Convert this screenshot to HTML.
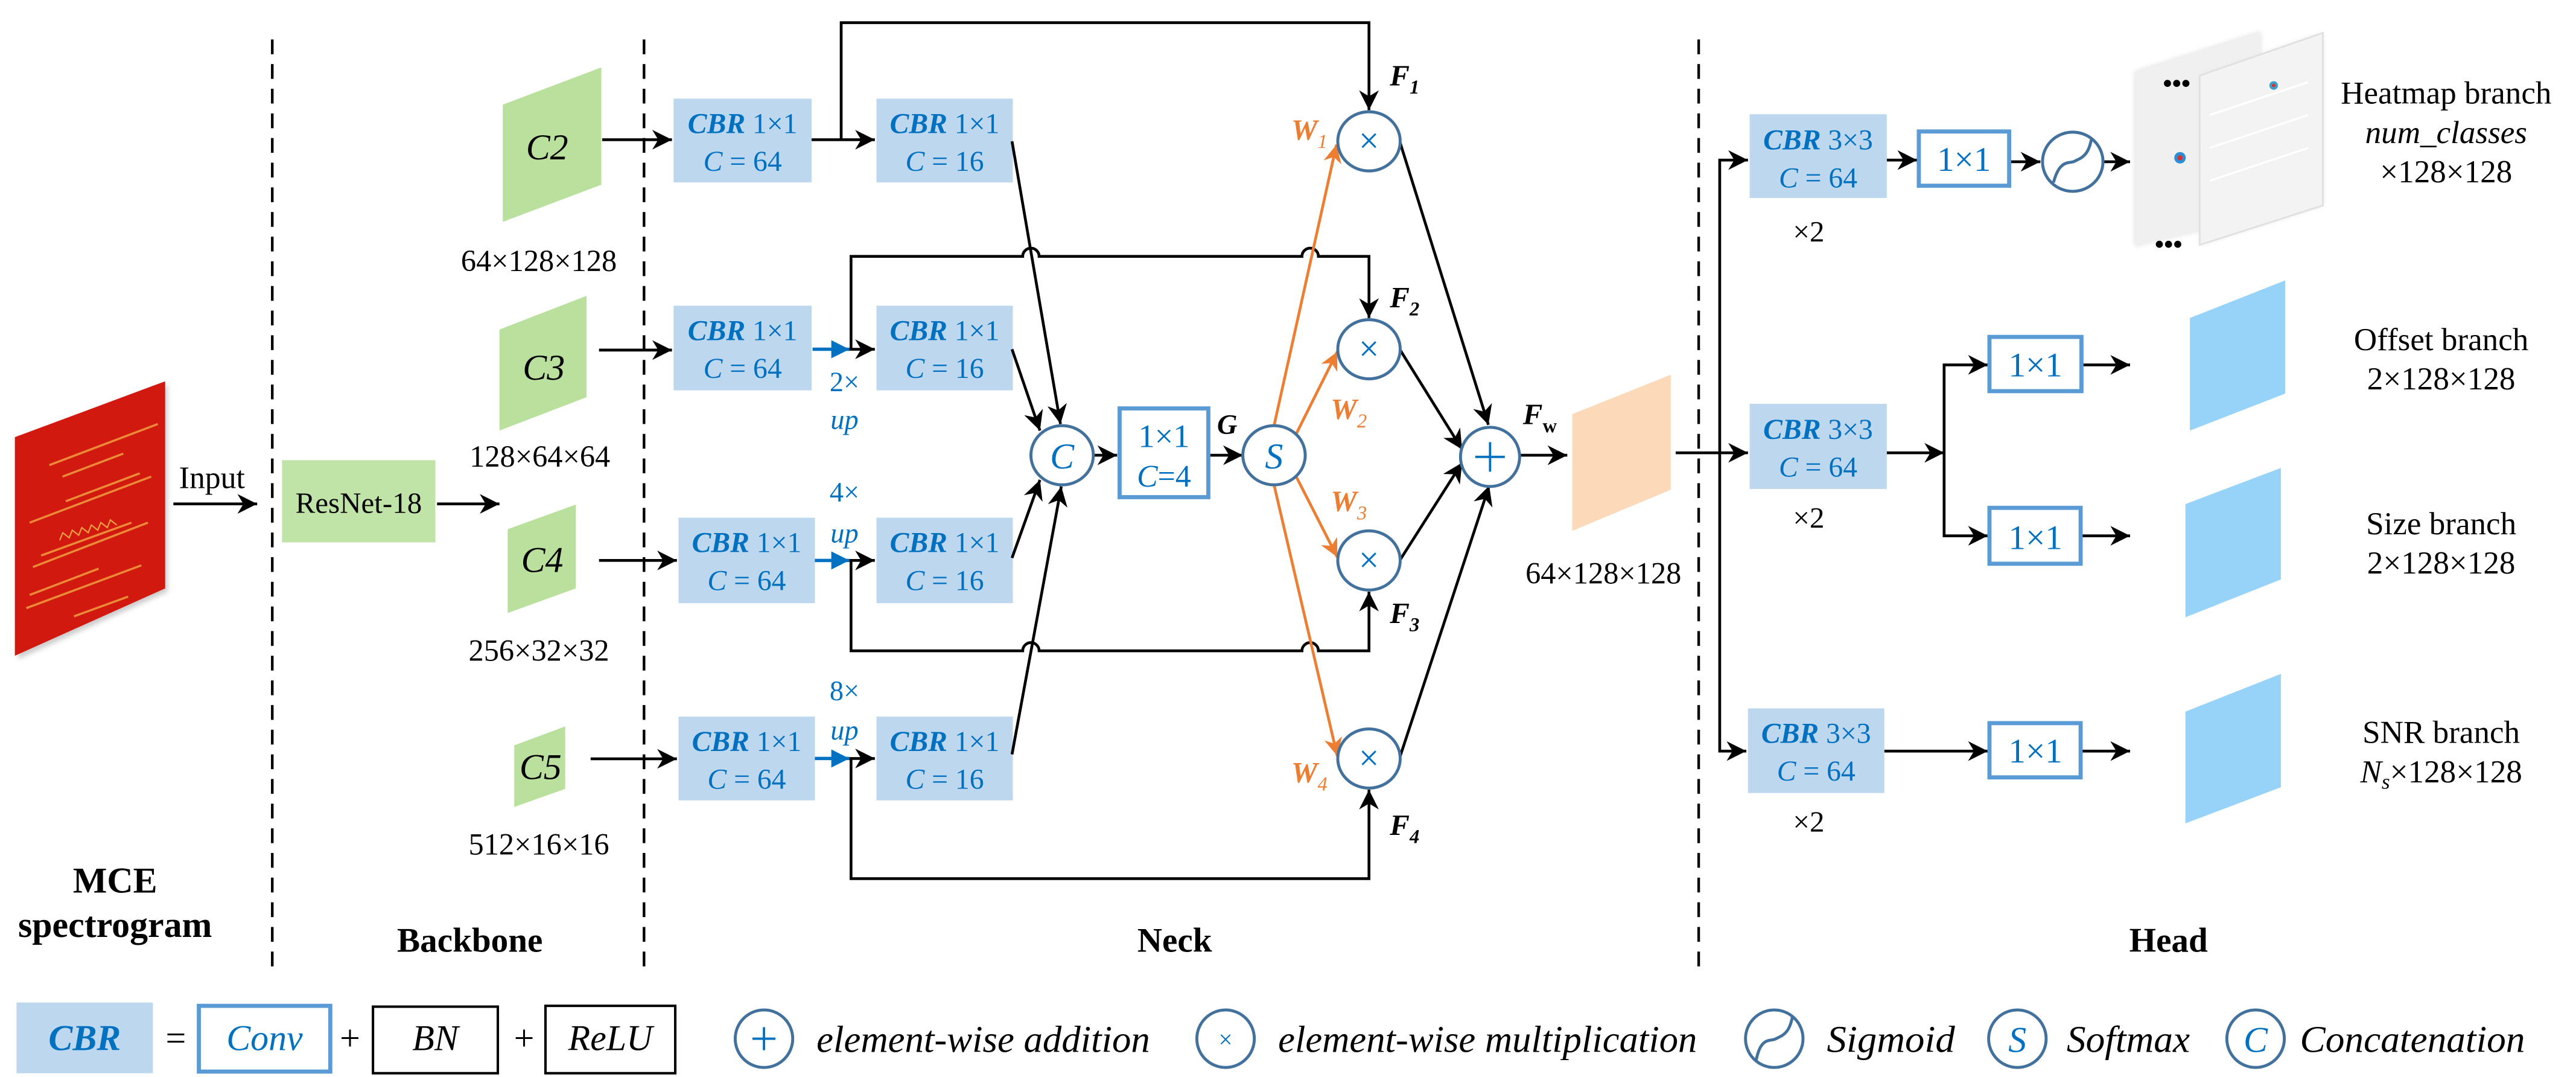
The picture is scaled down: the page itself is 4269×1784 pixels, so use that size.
<!DOCTYPE html>
<html><head><meta charset="utf-8">
<style>
html,body{margin:0;padding:0;background:#fff;}
svg{display:block;font-family:"Liberation Serif","Times New Roman",Times,"DejaVu Serif",serif;}
svg text{font-family:"Liberation Serif","Times New Roman",Times,"DejaVu Serif",serif;}
</style></head>
<body>
<svg width="4269" height="1784" viewBox="0 0 1568 655.3" xmlns="http://www.w3.org/2000/svg">
<defs>
<marker id="ab" markerUnits="userSpaceOnUse" markerWidth="12" markerHeight="12" refX="10" refY="5" orient="auto" viewBox="0 0 10 10"><path d="M0,0 L10,5 L0,10 L3,5 z" fill="#000"/></marker>
<marker id="ao" markerUnits="userSpaceOnUse" markerWidth="11" markerHeight="11" refX="10" refY="5" orient="auto" viewBox="0 0 10 10"><path d="M0,0 L10,5 L0,10 L3,5 z" fill="#ED7D31"/></marker>
<marker id="abl" markerUnits="userSpaceOnUse" markerWidth="11" markerHeight="11" refX="10" refY="5" orient="auto" viewBox="0 0 10 10"><path d="M0,0 L10,5 L0,10 z" fill="#0070C0"/></marker>
<filter id="sh" x="-20%" y="-20%" width="140%" height="140%"><feGaussianBlur stdDeviation="1.5"/></filter>
</defs>

<g stroke="#000" stroke-width="1.6" stroke-dasharray="9,6" fill="none">
<line x1="165.7" y1="24" x2="165.7" y2="588"/>
<line x1="392" y1="24" x2="392" y2="588"/>
<line x1="1034" y1="24" x2="1034" y2="588"/>
</g>

<polygon points="11,268 102,234 102,360 11,401" fill="#ccc" filter="url(#sh)"/>
<polygon points="9,266 100.5,232 100.5,358 9,399" fill="#D2190F"/>
<g stroke="#F0A040" stroke-width="1.3" opacity="0.85">
<line x1="30" y1="283" x2="96" y2="258"/>
<line x1="38" y1="290" x2="75" y2="276"/>
<line x1="18" y1="318" x2="92" y2="290"/>
<line x1="40" y1="305" x2="85" y2="288"/>
<line x1="20" y1="345" x2="90" y2="318"/>
<line x1="25" y1="338" x2="80" y2="318"/>
<line x1="16" y1="370" x2="86" y2="344"/>
<line x1="18" y1="362" x2="60" y2="346"/>
<line x1="45" y1="375" x2="78" y2="363"/>
</g>
<path d="M35,325 l3,-4 l3,4 l3,-4 l3,4 l3,-4 l3,4 l3,-4 l3,4 l3,-4 l3,4 l3,-4 l3,4" stroke="#F0A040" fill="none" stroke-width="0.8" transform="rotate(-15 50 322)"/>
<text x="129" y="297" font-size="19" text-anchor="middle">Input</text>
<line x1="105.5" y1="306.6" x2="156.5" y2="306.6" stroke="#000" stroke-width="1.7" marker-end="url(#ab)"/>
<text x="70" y="543" font-size="22" font-weight="bold" text-anchor="middle">MCE</text>
<text x="70" y="570" font-size="22" font-weight="bold" text-anchor="middle">spectrogram</text>

<rect x="171.6" y="280" width="93.4" height="50" fill="#C0E3A8"/>
<text x="218.3" y="312" font-size="18" text-anchor="middle">ResNet-18</text>
<line x1="266" y1="306.6" x2="304" y2="306.6" stroke="#000" stroke-width="1.7" marker-end="url(#ab)"/>

<g fill="#B9E09C">
<polygon points="306,63.7 366,41 366,112.4 306,135"/>
<polygon points="304,200.5 357,180 357,241.7 304,262"/>
<polygon points="309,322 350.5,307 350.5,358 309,373"/>
<polygon points="313,453.5 344,442 344,480 313,491"/>
</g>
<g font-size="22" font-style="italic" text-anchor="middle">
<text x="333" y="97">C2</text>
<text x="331" y="231">C3</text>
<text x="330" y="348">C4</text>
<text x="329" y="474">C5</text>
</g>
<g font-size="18.5" text-anchor="middle">
<text x="328" y="165">64×128×128</text>
<text x="328.6" y="284">128×64×64</text>
<text x="328" y="402">256×32×32</text>
<text x="328" y="520">512×16×16</text>
</g>
<text x="286" y="579" font-size="21" font-weight="bold" text-anchor="middle">Backbone</text>

<g stroke="#000" stroke-width="1.7" fill="none" marker-end="url(#ab)">
<line x1="366.5" y1="85" x2="409" y2="85"/>
<line x1="364.6" y1="213" x2="409" y2="213"/>
<line x1="364.6" y1="341" x2="412" y2="341"/>
<line x1="359.5" y1="461.7" x2="412" y2="461.7"/>
</g>

<g fill="#BDD7EE">
<rect x="410" y="60" width="84" height="51"/>
<rect x="410" y="186" width="84" height="51.5"/>
<rect x="413" y="315" width="83" height="52"/>
<rect x="413" y="436" width="83" height="51"/>
<rect x="533.5" y="60" width="83" height="51"/>
<rect x="533.5" y="186" width="83" height="51.5"/>
<rect x="533.5" y="315" width="83" height="52"/>
<rect x="533.5" y="436" width="83" height="51"/>
</g>
<g font-size="17.5" fill="#0070C0" text-anchor="middle">
<text x="452" y="81"><tspan font-weight="bold" font-style="italic">CBR</tspan> 1×1</text>
<text x="452" y="104"><tspan font-style="italic">C</tspan> = 64</text>
<text x="452" y="207"><tspan font-weight="bold" font-style="italic">CBR</tspan> 1×1</text>
<text x="452" y="230"><tspan font-style="italic">C</tspan> = 64</text>
<text x="454.5" y="336"><tspan font-weight="bold" font-style="italic">CBR</tspan> 1×1</text>
<text x="454.5" y="359"><tspan font-style="italic">C</tspan> = 64</text>
<text x="454.5" y="457"><tspan font-weight="bold" font-style="italic">CBR</tspan> 1×1</text>
<text x="454.5" y="480"><tspan font-style="italic">C</tspan> = 64</text>
<text x="575" y="81"><tspan font-weight="bold" font-style="italic">CBR</tspan> 1×1</text>
<text x="575" y="104"><tspan font-style="italic">C</tspan> = 16</text>
<text x="575" y="207"><tspan font-weight="bold" font-style="italic">CBR</tspan> 1×1</text>
<text x="575" y="230"><tspan font-style="italic">C</tspan> = 16</text>
<text x="575" y="336"><tspan font-weight="bold" font-style="italic">CBR</tspan> 1×1</text>
<text x="575" y="359"><tspan font-style="italic">C</tspan> = 16</text>
<text x="575" y="457"><tspan font-weight="bold" font-style="italic">CBR</tspan> 1×1</text>
<text x="575" y="480"><tspan font-style="italic">C</tspan> = 16</text>
</g>
<g font-size="17" fill="#0070C0" text-anchor="middle">
<text x="514" y="238">2×</text><text x="514" y="261" font-style="italic">up</text>
<text x="514" y="305">4×</text><text x="514" y="330" font-style="italic">up</text>
<text x="514" y="426">8×</text><text x="514" y="450" font-style="italic">up</text>
</g>

<g stroke="#0070C0" stroke-width="2" marker-end="url(#abl)">
<line x1="494.6" y1="212.5" x2="517" y2="212.5"/>
<line x1="496" y1="341" x2="517" y2="341"/>
<line x1="496" y1="461.5" x2="517" y2="461.5"/>
</g>
<g stroke="#000" stroke-width="1.7" fill="none" marker-end="url(#ab)">
<line x1="517" y1="212.5" x2="532.5" y2="212.5"/>
<line x1="517" y1="341" x2="532.5" y2="341"/>
<line x1="517" y1="461.5" x2="532.5" y2="461.5"/>
<line x1="494" y1="85" x2="532.5" y2="85"/>
<polyline points="512,85 512,13.8 833.3,13.8 833.3,67"/>
<path d="M518,212.5 L518,156 L622.5,156 A5,5 0 0 1 632.5,156 L792.5,156 A5,5 0 0 1 802.5,156 L833.3,156 L833.3,193.5"/>
<path d="M518,341 L518,396 L622.5,396 A5,5 0 0 1 632.5,396 L792.5,396 A5,5 0 0 1 802.5,396 L833.3,396 L833.3,360"/>
<polyline points="518,461.5 518,534.6 833.3,534.6 833.3,480.5"/>
<line x1="616" y1="86" x2="645.5" y2="258"/>
<line x1="616" y1="212.5" x2="633" y2="262"/>
<line x1="616" y1="339.5" x2="633" y2="292"/>
<line x1="616" y1="459" x2="646" y2="296"/>
<line x1="665" y1="277" x2="680" y2="277"/>
<line x1="736" y1="277" x2="756.5" y2="277"/>
<line x1="852" y1="86" x2="906" y2="258.5"/>
<line x1="852" y1="212.5" x2="890" y2="273.5"/>
<line x1="852" y1="341" x2="890" y2="281.5"/>
<line x1="852" y1="461" x2="906.5" y2="295.5"/>
<line x1="925.5" y1="277" x2="954" y2="277"/>
</g>

<g stroke="#ED7D31" stroke-width="1.7" fill="none" marker-end="url(#ao)">
<line x1="775.5" y1="259" x2="813.5" y2="88"/>
<line x1="789" y1="264" x2="814" y2="214"/>
<line x1="789" y1="290" x2="814" y2="339"/>
<line x1="775.5" y1="295" x2="814" y2="460"/>
</g>
<g fill="#ED7D31" font-style="italic" font-weight="bold" font-size="18">
<text x="786" y="85">W<tspan font-size="12" dy="5" font-weight="normal">1</tspan></text>
<text x="810" y="255">W<tspan font-size="12" dy="5" font-weight="normal">2</tspan></text>
<text x="810" y="311">W<tspan font-size="12" dy="5" font-weight="normal">3</tspan></text>
<text x="786" y="476">W<tspan font-size="12" dy="5" font-weight="normal">4</tspan></text>
</g>

<g stroke="#41719C" stroke-width="1.8" fill="#fff">
<ellipse cx="646.5" cy="277" rx="19" ry="18"/>
<ellipse cx="775.5" cy="277" rx="19" ry="18"/>
<ellipse cx="833.3" cy="86" rx="19" ry="18"/>
<ellipse cx="833.3" cy="212.5" rx="19" ry="18"/>
<ellipse cx="833.3" cy="341" rx="19" ry="18"/>
<ellipse cx="833.3" cy="461.5" rx="19" ry="18"/>
<ellipse cx="907" cy="278" rx="18" ry="18"/>
</g>
<g fill="#0070C0" text-anchor="middle" font-size="22">
<text x="646.5" y="285" font-style="italic">C</text>
<text x="775.5" y="285" font-style="italic">S</text>
<text x="833.3" y="93">×</text>
<text x="833.3" y="219.5">×</text>
<text x="833.3" y="348">×</text>
<text x="833.3" y="468.5">×</text>
</g>
<g stroke="#0070C0" stroke-width="1.4"><line x1="898" y1="278" x2="916" y2="278"/><line x1="907" y1="269" x2="907" y2="287"/></g>

<rect x="681.5" y="248.5" width="54" height="54" fill="#fff" stroke="#5B9BD5" stroke-width="2.5"/>
<text x="708.5" y="272" font-size="20" fill="#0070C0" text-anchor="middle">1×1</text>
<text x="708.5" y="296" font-size="19" fill="#0070C0" text-anchor="middle"><tspan font-style="italic">C</tspan>=4</text>
<text x="747" y="264" font-size="17" font-weight="bold" font-style="italic" text-anchor="middle">G</text>

<g font-style="italic" font-weight="bold" font-size="18">
<text x="846" y="52">F<tspan font-size="12" dy="5">1</tspan></text>
<text x="846" y="187">F<tspan font-size="12" dy="5">2</tspan></text>
<text x="846" y="379">F<tspan font-size="12" dy="5">3</tspan></text>
<text x="846" y="508">F<tspan font-size="12" dy="5">4</tspan></text>
<text x="927" y="258">F<tspan font-size="12" dy="5" font-style="normal">w</tspan></text>
</g>

<polygon points="957,252 1017,228 1017,298 957,323" fill="#FCD9B8"/>
<text x="976" y="355" font-size="18.5" text-anchor="middle">64×128×128</text>
<text x="715" y="579" font-size="21" font-weight="bold" text-anchor="middle">Neck</text>

<g stroke="#000" stroke-width="1.7" fill="none" marker-end="url(#ab)">
<line x1="1020" y1="275.5" x2="1064" y2="275.5"/>
<polyline points="1046.8,275.5 1046.8,97.4 1064,97.4"/>
<polyline points="1046.8,275.5 1046.8,457 1063,457"/>
<line x1="1148.5" y1="97.4" x2="1167" y2="97.4"/>
<line x1="1223" y1="98.4" x2="1242" y2="98.4"/>
<line x1="1280" y1="98.4" x2="1296.6" y2="98.4"/>
<line x1="1148.5" y1="275.5" x2="1183.4" y2="275.5"/>
<polyline points="1183.4,275.5 1183.4,222 1210,222"/>
<polyline points="1183.4,275.5 1183.4,326 1210,326"/>
<line x1="1147" y1="457" x2="1210" y2="457"/>
<line x1="1267" y1="222" x2="1296.6" y2="222"/>
<line x1="1267" y1="326" x2="1296.6" y2="326"/>
<line x1="1267" y1="457" x2="1296.6" y2="457"/>
</g>
<g fill="#BDD7EE">
<rect x="1065" y="69.5" width="83.5" height="51"/>
<rect x="1065" y="245.7" width="83.5" height="51.8"/>
<rect x="1064" y="431" width="83" height="51.5"/>
</g>
<g font-size="17.5" fill="#0070C0" text-anchor="middle">
<text x="1106.7" y="91"><tspan font-weight="bold" font-style="italic">CBR</tspan> 3×3</text>
<text x="1106.7" y="114"><tspan font-style="italic">C</tspan> = 64</text>
<text x="1106.7" y="267"><tspan font-weight="bold" font-style="italic">CBR</tspan> 3×3</text>
<text x="1106.7" y="290"><tspan font-style="italic">C</tspan> = 64</text>
<text x="1105.5" y="452"><tspan font-weight="bold" font-style="italic">CBR</tspan> 3×3</text>
<text x="1105.5" y="475"><tspan font-style="italic">C</tspan> = 64</text>
</g>
<g font-size="18" text-anchor="middle">
<text x="1101" y="147">×2</text>
<text x="1101" y="321">×2</text>
<text x="1101" y="506">×2</text>
</g>
<g fill="#fff" stroke="#5B9BD5" stroke-width="2.5">
<rect x="1168" y="80" width="55" height="33"/>
<rect x="1211" y="205" width="56" height="33"/>
<rect x="1211" y="309" width="55.5" height="34"/>
<rect x="1211" y="440" width="55.5" height="33"/>
</g>
<g font-size="21" fill="#0070C0" text-anchor="middle">
<text x="1195.5" y="104">1×1</text>
<text x="1239" y="229">1×1</text>
<text x="1239" y="334">1×1</text>
<text x="1239" y="464">1×1</text>
</g>
<ellipse cx="1261.7" cy="98.4" rx="18.4" ry="18" fill="#fff" stroke="#41719C" stroke-width="1.8"/>
<path d="M1250,111 C1254,96 1260,100 1263,98 C1267,96 1271,95 1273,85" stroke="#41719C" stroke-width="1.8" fill="none"/>

<polygon points="1300,44 1375.5,20 1375.5,131 1300,149" fill="#EBEBEB" stroke="#d8d8d8" filter="url(#sh)"/>
<polygon points="1300,44 1375.5,20 1375.5,131 1300,149" fill="#F0F0F0"/>
<polygon points="1339,46 1414,20 1414,125 1339,149" fill="#E6E6E6" filter="url(#sh)"/>
<polygon points="1339,46 1414,20 1414,125 1339,149" fill="#F3F3F3" stroke="#e0e0e0"/>
<g stroke="#ffffff" stroke-width="1.2">
<line x1="1345" y1="70" x2="1405" y2="50"/><line x1="1345" y1="90" x2="1405" y2="70"/><line x1="1345" y1="110" x2="1405" y2="90"/>
</g>
<circle cx="1327" cy="96" r="3.5" fill="#2B8FD8"/><circle cx="1327" cy="96" r="1.6" fill="#E0302A"/>
<circle cx="1384" cy="52" r="2.6" fill="#3AA0C8"/><circle cx="1384" cy="52" r="1.1" fill="#E0302A"/>
<text x="1325" y="56" font-size="16" font-weight="bold" text-anchor="middle">•••</text>
<text x="1320" y="154" font-size="16" font-weight="bold" text-anchor="middle">•••</text>

<g fill="#97D3F9">
<polygon points="1333,193.5 1391,170.6 1391,239.5 1333,262"/>
<polygon points="1330.3,306.7 1388.4,284.7 1388.4,352.6 1330.3,375.6"/>
<polygon points="1330.3,433 1388.4,410 1388.4,479 1330.3,501"/>
</g>

<g font-size="19.5" text-anchor="middle">
<text x="1489" y="63">Heatmap branch</text>
<text x="1489" y="87" font-style="italic">num_classes</text>
<text x="1489" y="111">×128×128</text>
<text x="1486" y="213">Offset branch</text>
<text x="1486" y="237">2×128×128</text>
<text x="1486" y="325">Size branch</text>
<text x="1486" y="349">2×128×128</text>
<text x="1486" y="452">SNR branch</text>
<text x="1486" y="476"><tspan font-style="italic">N<tspan font-size="13" dy="4">s</tspan></tspan><tspan dy="-4">×128×128</tspan></text>
</g>
<text x="1320" y="579" font-size="21" font-weight="bold" text-anchor="middle">Head</text>

<rect x="10" y="610" width="83" height="43" fill="#BDD7EE"/>
<text x="51.5" y="639" font-size="22" font-weight="bold" font-style="italic" fill="#0070C0" text-anchor="middle">CBR</text>
<text x="107" y="639" font-size="22" text-anchor="middle">=</text>
<rect x="121" y="612" width="80" height="40" fill="#fff" stroke="#5B9BD5" stroke-width="2.5"/>
<text x="161" y="639" font-size="22" font-style="italic" fill="#0070C0" text-anchor="middle">Conv</text>
<text x="213" y="639" font-size="22" text-anchor="middle">+</text>
<rect x="227" y="612.5" width="76" height="40.5" fill="#fff" stroke="#000" stroke-width="1.5"/>
<text x="265" y="639" font-size="22" font-style="italic" text-anchor="middle">BN</text>
<text x="319" y="639" font-size="22" text-anchor="middle">+</text>
<rect x="332" y="612" width="79" height="41" fill="#fff" stroke="#000" stroke-width="1.5"/>
<text x="371.5" y="639" font-size="22" font-style="italic" text-anchor="middle">ReLU</text>

<g stroke="#41719C" stroke-width="1.8" fill="#fff">
<circle cx="465" cy="632" r="17.5"/>
<circle cx="746" cy="632" r="17.5"/>
<circle cx="1080" cy="632" r="17.5"/>
<circle cx="1228" cy="632" r="17.5"/>
<circle cx="1373" cy="632" r="17.5"/>
</g>
<g stroke="#0070C0" stroke-width="1.4"><line x1="458" y1="632" x2="472" y2="632"/><line x1="465" y1="625" x2="465" y2="639"/></g>
<text x="746" y="637.5" font-size="15" fill="#0070C0" text-anchor="middle">×</text>
<path d="M1069,645 C1072,630 1078,634 1081,632 C1085,630 1089,629 1091,619" stroke="#41719C" stroke-width="1.8" fill="none"/>
<text x="1228" y="640" font-size="22" font-style="italic" fill="#0070C0" text-anchor="middle">S</text>
<text x="1373" y="640" font-size="22" font-style="italic" fill="#0070C0" text-anchor="middle">C</text>
<g font-size="23" font-style="italic">
<text x="497" y="640" textLength="203" lengthAdjust="spacingAndGlyphs">element-wise addition</text>
<text x="778" y="640" textLength="255" lengthAdjust="spacingAndGlyphs">element-wise multiplication</text>
<text x="1112" y="640" textLength="78" lengthAdjust="spacingAndGlyphs">Sigmoid</text>
<text x="1258" y="640" textLength="75" lengthAdjust="spacingAndGlyphs">Softmax</text>
<text x="1400" y="640" textLength="137" lengthAdjust="spacingAndGlyphs">Concatenation</text>
</g>
</svg>
</body></html>
